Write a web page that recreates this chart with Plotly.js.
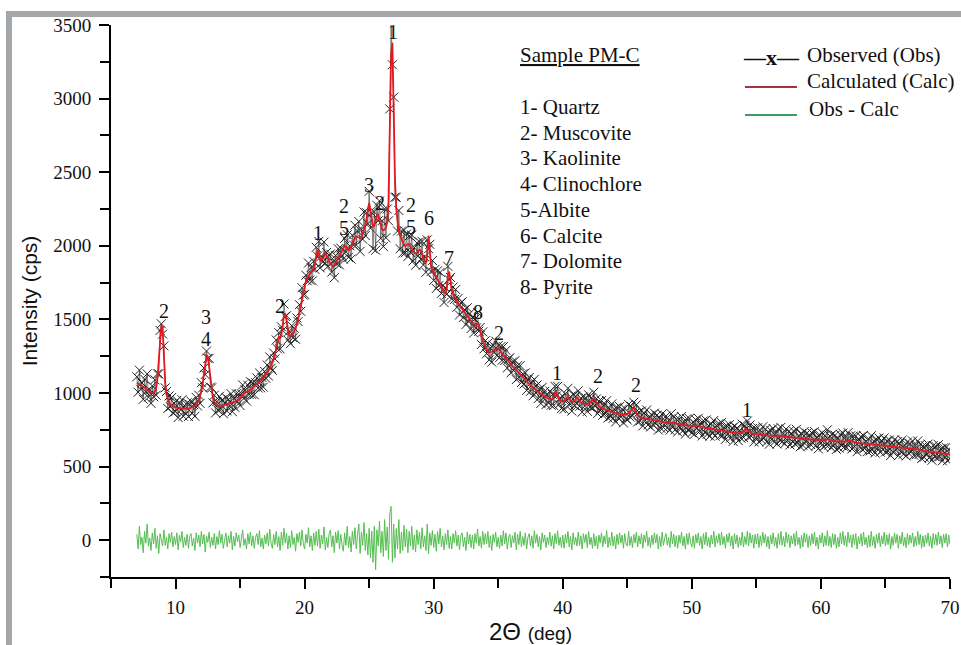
<!DOCTYPE html>
<html><head><meta charset="utf-8">
<script src="https://cdn.plot.ly/plotly-3.0.1.min.js"></script>
<style>
html,body{margin:0;padding:0;background:#fff;overflow:hidden;}
#chart{width:961px;height:645px;}
.frame{position:absolute;background:#a3a7aa;pointer-events:none;}
</style></head><body>
<div id="chart"></div>
<div class="frame" style="left:6px;top:11px;width:955px;height:6px;"></div>
<div class="frame" style="left:6px;top:11px;width:6px;height:634px;"></div>
<script>
// Scan grid: 7.0° to 70.0° in 0.1° steps
const startAngle = 7.0;
const stepAngle = 0.1;

// Calculated (Calc) intensity, one value per 0.1° (rows = 1° each)
const calc = [
1070,1065,1060,1055,1048,1042,1035,1028,1020,1012,
1005,1000,998,1000,1010,1040,1100,1220,1380,1460,
1440,1250,1070,990,955,935,922,915,910,906,
903,900,898,896,895,894,893,893,893,894,
895,897,899,902,906,912,920,932,950,975,
1010,1060,1130,1205,1255,1250,1180,1090,1015,968,
940,925,917,913,912,912,913,915,917,920,
923,927,931,935,938,940,942,945,950,958,
965,975,985,998,1010,1005,1008,1015,1022,1030,
1037,1043,1050,1057,1064,1072,1080,1090,1100,1112,
1125,1140,1155,1170,1188,1208,1232,1262,1300,1345,
1385,1370,1395,1460,1525,1540,1480,1420,1390,1385,
1392,1405,1420,1440,1465,1500,1545,1595,1645,1690,
1730,1760,1782,1798,1812,1822,1832,1845,1875,1930,
1970,1955,1905,1895,1915,1935,1945,1935,1910,1890,
1875,1866,1862,1868,1880,1898,1915,1930,1945,1962,
1985,2000,1995,1980,1972,1975,1990,2012,2035,2055,
2065,2060,2055,2052,2058,2080,2110,2140,2180,2250,
2290,2240,2165,2130,2135,2170,2205,2210,2175,2135,
2110,2105,2110,2125,2160,2300,2750,3300,3380,2900,
2450,2250,2160,2100,2070,2045,2020,2005,1998,2005,
2012,2008,1995,1978,1962,1952,1948,1950,1962,1972,
1968,1945,1915,1895,1890,1930,2070,1960,1860,1835,
1815,1800,1785,1770,1755,1740,1722,1700,1680,1672,
1700,1790,1825,1760,1700,1675,1655,1638,1622,1608,
1595,1582,1570,1558,1546,1535,1524,1512,1500,1488,
1478,1468,1458,1462,1472,1460,1420,1385,1355,1330,
1310,1292,1280,1275,1275,1280,1285,1292,1298,1300,
1302,1295,1280,1262,1250,1245,1240,1230,1215,1200,
1188,1180,1172,1165,1156,1146,1136,1126,1116,1106,
1096,1087,1078,1069,1060,1052,1044,1036,1028,1021,
1014,1007,1000,994,988,982,976,971,966,962,
958,956,960,975,1000,1005,980,958,948,944,
942,945,955,968,972,962,950,942,940,945,
958,968,960,945,935,930,928,926,925,925,
928,935,945,955,960,950,935,920,910,903,
898,894,890,886,883,880,877,874,871,868,
866,864,862,860,858,856,854,852,851,852,
856,862,872,885,895,897,885,865,848,840,
836,833,831,829,827,825,823,821,819,817,
815,813,811,810,808,806,805,803,801,800,
798,797,796,797,799,800,798,795,792,790,
788,786,785,783,782,781,780,778,777,776,
775,774,775,778,780,778,774,771,768,766,
764,762,760,759,757,756,755,753,752,750,
749,747,746,744,743,741,740,738,737,735,
734,732,731,729,728,727,726,726,728,733,
742,752,756,750,740,732,727,724,722,721,
720,719,718,717,716,716,715,714,713,712,
712,711,710,709,708,708,709,711,710,707,
704,702,701,700,699,698,697,696,695,695,
694,693,692,691,690,690,689,688,687,687,
686,685,685,684,684,683,682,682,681,680,
680,679,679,680,682,685,686,683,679,676,
674,673,672,671,670,669,668,668,669,671,
674,676,677,674,670,667,665,663,661,660,
659,658,657,656,655,654,653,652,651,650,
649,648,647,646,645,644,643,642,641,640,
639,638,637,636,635,634,633,632,631,630,
629,628,627,626,625,624,623,622,621,621,
622,624,622,619,616,614,612,611,610,609,
608,607,605,603,601,599,598,598,599,598,
596,594,592,590,589,588,587,586,585,584,
583
];

// Obs - Calc residual, one value per 0.1°
const residual = [
40,-60,95,-30,20,-85,60,-20,110,-40,
15,-70,50,-25,80,-55,30,-90,45,10,
-40,70,-35,20,-60,45,-15,55,-45,25,
-30,50,-65,35,-10,60,-50,20,-35,40,
-55,25,45,-40,15,-70,50,-20,35,-45,
60,-25,40,-80,30,-15,55,-50,20,-35,
45,-60,25,-30,65,-20,40,-55,15,50,
-45,30,-20,60,-65,25,-40,50,-10,35,
-50,20,70,-35,10,-60,45,-25,55,-40,
30,-55,20,45,-30,65,-45,15,-60,35,
-25,50,-40,75,-20,-55,40,-30,60,-45,
25,-70,55,-35,80,-20,45,-60,30,-50,
65,-30,20,-75,45,-15,55,-40,70,-25,
-60,40,-20,85,-45,30,-70,50,-35,60,
-40,75,-55,35,-25,90,-65,20,-50,45,
70,-45,30,-85,55,-20,65,-60,40,-30,
-75,50,-35,95,-50,25,-80,60,-30,85,
-60,40,110,-90,55,-35,120,-70,45,-100,
80,-120,60,-150,95,-200,70,-40,130,-85,
60,-110,140,-70,90,-130,180,230,-150,110,
-120,80,-60,140,-90,55,-70,100,-45,75,
-85,60,-40,95,-65,35,-80,70,-30,55,
-60,85,-45,30,-70,110,-90,50,-35,65,
-50,40,-75,60,-25,80,-45,30,-65,45,
-30,70,-55,25,-60,45,-20,65,-40,35,
-65,30,50,-45,20,-70,55,-25,40,-50,
35,-60,45,-20,75,-40,25,-55,60,-30,
45,-25,60,-50,30,-70,40,-15,55,-45,
20,-55,35,-40,65,-25,50,-60,15,40,
-50,30,-20,55,-65,40,-30,60,-45,25,
-35,50,-60,20,45,-40,30,-55,65,-20,
40,-45,25,-65,50,-15,35,-50,20,-30,
55,-40,30,-60,45,-25,65,-35,20,-50,
35,-55,40,-20,60,-45,25,-65,50,-30,
20,-40,55,-35,30,-60,45,-15,40,-50,
60,-30,20,-55,45,-40,25,-60,35,-20,
50,-45,30,-25,65,-50,20,-35,55,-40,
25,-60,40,-30,50,-20,35,-55,45,-25,
-40,60,-35,25,-50,40,-20,55,-45,30,
-25,45,-55,35,-15,60,-40,20,-50,35,
-30,50,-20,40,-60,25,-45,55,-35,15,
45,-35,20,-50,60,-25,40,-45,30,-55,
35,-20,55,-40,25,-60,45,-30,50,-15,
-45,30,-55,40,-20,50,-35,25,-60,45,
-30,55,-40,20,-50,35,-25,60,-45,30,
-20,45,-35,55,-30,25,-55,40,-15,50,
-40,30,-60,45,-25,35,-50,20,-35,55,
-45,25,-30,60,-40,50,-20,35,-55,40,
-25,45,-50,30,-35,55,-20,40,-45,25,
-60,35,-25,50,-40,20,-55,45,-30,60,
-35,25,-45,55,-20,40,-50,30,-25,45,
-40,60,-30,20,-55,35,-45,50,-15,40,
-50,30,-35,45,-25,55,-40,20,-60,35,
-20,50,-45,30,-35,65,-40,25,-50,45,
-30,40,-55,20,-45,50,-25,60,-35,30,
-45,55,-20,35,-50,40,-30,45,-60,25,
-25,45,-40,55,-30,20,-50,35,-45,60,
-35,25,-55,40,-20,50,-45,30,-25,55,
-40,35,-30,45,-60,25,-35,50,-20,40,
-55,30,-25,55,-40,20,-50,45,-30,35,
-20,50,-45,25,-35,60,-30,40,-55,30,
-45,35,-20,50,-40,25,-55,45,-30,40,
-35,55,-25,30,-50,40,-20,45,-45,35,
-30
];

// Peak identification labels
const peakLabelText = ['2','3','4','2','1','2','5','3','2','1','2','5','6','7','8','2','1','2','2','1'];
const peakLabelAngle = [9.1,12.36,12.36,18.09,21.04,23.05,23.05,24.99,25.84,26.85,28.24,28.24,29.64,31.19,33.43,35.06,39.55,42.73,45.67,54.27];
const peakLabelIntensity = [1556,1515,1365,1590,2086,2271,2121,2413,2290,3452,2277,2127,2188,1916,1550,1407,1135,1115,1053,884];

// Phase list and legend text
const sampleTitle = 'Sample PM-C';
const phaseList = ['1- Quartz','2- Muscovite','3- Kaolinite','4- Clinochlore','5-Albite','6- Calcite','7- Dolomite','8- Pyrite'];
const legendLabels = ['Observed (Obs)','Calculated (Calc)','Obs - Calc'];

const twoTheta = calc.map((_, i) => +(startAngle + i * stepAngle).toFixed(1));
const observed = calc.map((c, i) => c + residual[i]);
const obsMinusCalc = observed.map((o, i) => o - calc[i]);

// plot-area pixel geometry -> paper coordinates for text placement
const PL = 111, PR = 950, PT = 25, PB = 577;
const px = x => (x - PL) / (PR - PL);
const py = y => (PB - y) / (PB - PT);

const SERIF = 'Liberation Serif, Times New Roman, serif';
const SANS = 'Liberation Sans, Arial, sans-serif';
const RED = '#e3191f', GREEN = '#55bd52';

const traces = [
  {x: twoTheta, y: observed, type: 'scatter', mode: 'lines+markers', name: 'Observed (Obs)',
   line: {color: '#111', width: 0.5},
   marker: {symbol: 'x-thin-open', size: 9, color: '#222', line: {width: 1, color: '#222'}}},
  {x: twoTheta, y: calc, type: 'scatter', mode: 'lines', name: 'Calculated (Calc)',
   line: {color: RED, width: 1.8}},
  {x: twoTheta, y: obsMinusCalc, type: 'scatter', mode: 'lines', name: 'Obs - Calc',
   line: {color: GREEN, width: 1}}
];

const annotations = [];
peakLabelText.forEach((t, i) => annotations.push({
  x: peakLabelAngle[i], y: peakLabelIntensity[i], xref: 'x', yref: 'y', text: t, showarrow: false,
  xanchor: 'center', yanchor: 'middle', borderpad: 0, font: {family: SERIF, size: 20, color: '#111'}
}));
annotations.push({x: px(518), y: py(55), xref: 'paper', yref: 'paper', text: '<u>' + sampleTitle + '</u>',
  showarrow: false, xanchor: 'left', yanchor: 'middle', font: {family: SERIF, size: 21, color: '#111'}});
const listY = [107,133,158,184,210,236,261,287];
phaseList.forEach((t, i) => annotations.push({
  x: px(518), y: py(listY[i]), xref: 'paper', yref: 'paper', text: t, showarrow: false,
  xanchor: 'left', yanchor: 'middle', font: {family: SERIF, size: 21, color: '#111'}
}));
annotations.push({x: px(771), y: py(57), xref: 'paper', yref: 'paper', text: '<b>—x—</b>', showarrow: false,
  xanchor: 'center', yanchor: 'middle', font: {family: SERIF, size: 22, color: '#111'}});
const legendY = [55,81,109], legendX = [805,805,807];
legendLabels.forEach((t, i) => annotations.push({
  x: px(legendX[i]), y: py(legendY[i]), xref: 'paper', yref: 'paper', text: t, showarrow: false,
  xanchor: 'left', yanchor: 'middle', font: {family: SERIF, size: 21, color: '#111'}
}));

const shapes = [
  {type: 'line', xref: 'paper', yref: 'paper', x0: px(745), x1: px(797), y0: py(87), y1: py(87), line: {color: '#a8323c', width: 2}},
  {type: 'line', xref: 'paper', yref: 'paper', x0: px(745), x1: px(797), y0: py(115), y1: py(115), line: {color: '#3d9a6a', width: 2}}
];

const layout = {
  width: 961, height: 645,
  margin: {l: PL, r: 961 - PR, t: PT, b: 645 - PB, pad: 0},
  paper_bgcolor: '#fff', plot_bgcolor: '#fff',
  showlegend: false,
  font: {family: SERIF, color: '#111'},
  xaxis: {
    range: [5, 70], tick0: 0, dtick: 10, ticks: 'outside', ticklen: 10, tickwidth: 2, tickcolor: '#000',
    showline: true, linewidth: 2, linecolor: '#000', showgrid: false, zeroline: false,
    tickfont: {family: SERIF, size: 19, color: '#111'}, ticklabelstandoff: 2,
    minor: {dtick: 5, ticks: 'outside', ticklen: 9, tickwidth: 2, tickcolor: '#000', showgrid: false},
    title: {text: '2Θ <span style="font-size:19px">(deg)</span>', font: {family: SANS, size: 24, color: '#111'}, standoff: 6}
  },
  yaxis: {
    range: [-250, 3500], tick0: 0, dtick: 500, ticks: 'outside', ticklen: 10, tickwidth: 2, tickcolor: '#000',
    showline: true, linewidth: 2, linecolor: '#000', showgrid: false, zeroline: false,
    tickfont: {family: SERIF, size: 19, color: '#111'}, ticklabelstandoff: 4,
    minor: {dtick: 250, ticks: 'outside', ticklen: 9, tickwidth: 2, tickcolor: '#000', showgrid: false},
    title: {text: 'Intensity (cps)', font: {family: SANS, size: 21, color: '#111'}, standoff: 10}
  },
  annotations: annotations,
  shapes: shapes
};

Plotly.newPlot('chart', traces, layout, {staticPlot: true, displayModeBar: false});
</script>
</body></html>
